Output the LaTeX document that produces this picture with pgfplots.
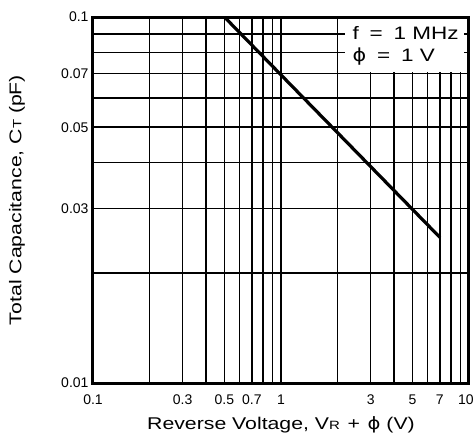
\documentclass[border=0pt]{standalone}
\usepackage{fontspec}
\setmainfont{Liberation Sans}
\newfontfamily\wide{Liberation Sans}[FakeStretch=1.25]
\newfontfamily\dv{DejaVu Sans}[FakeStretch=1.15]
\usepackage{pgfplots}
\pgfplotsset{compat=1.18}
\begin{document}
\begin{tikzpicture}
\begin{axis}[
  at={(0,0)}, anchor=south west,
  xmode=log, ymode=log,
  scale only axis, width=376bp, height=366bp,
  xmin=0.1, xmax=10, ymin=0.01, ymax=0.1,
  xtick={0.1,0.2,0.3,0.4,0.5,0.6,0.7,0.8,0.9,1,2,3,4,5,6,7,8,9,10},
  xticklabels={0.1,,0.3,,0.5,,0.7,,,1,,3,,5,,7,,,\hspace{-6bp}10},
  ytick={0.01,0.02,0.03,0.04,0.05,0.06,0.07,0.08,0.09,0.1},
  yticklabels={0.01,,0.03,,0.05,,0.07,,,0.1},
  minor xtick={}, minor ytick={},
  grid=major,
  major grid style={black, line width=1.5bp},
  major tick length=0pt,
  axis line style={line width=3bp},
  tick label style={font=\fontsize{14bp}{16bp}\selectfont, black},
  xticklabel style={yshift=-8bp},
  yticklabel style={xshift=-1bp},
]
\addplot[black, line width=3.2bp] coordinates {(0.5,0.1) (7,0.025)};
\fill[white] (axis cs:2.2,0.0708) rectangle (axis cs:9.4,0.1);
\node[anchor=west, font=\wide\fontsize{18bp}{20bp}\selectfont, inner sep=0pt] at (axis cs:2.4,0.0905) {f\hspace{0.6em}=\hspace{0.6em}1 MHz};
\node[anchor=west, font=\wide\fontsize{18bp}{20bp}\selectfont, inner sep=0pt] at (axis cs:2.4,0.0778) {{\dv ϕ}\hspace{0.6em}=\hspace{0.6em}1 V};
\draw[line width=3bp] (rel axis cs:0,0) rectangle (rel axis cs:1,1);
\end{axis}
\node[font=\wide\fontsize{17bp}{20bp}\selectfont, anchor=center] at (188bp,-42bp)
  {Reverse Voltage, V{\fontsize{12bp}{12bp}\selectfont R}\hspace{0.45em}+\hspace{0.45em}{\dv ϕ} (V)};
\node[font=\wide\fontsize{17bp}{20bp}\selectfont, anchor=center, rotate=90] at (-76bp,183bp)
  {Total Capacitance, C{\fontsize{12bp}{12bp}\selectfont T} (pF)};
\pgfresetboundingbox
\useasboundingbox (-93bp,-58bp) rectangle (382bp,383bp);
\end{tikzpicture}
\end{document}
